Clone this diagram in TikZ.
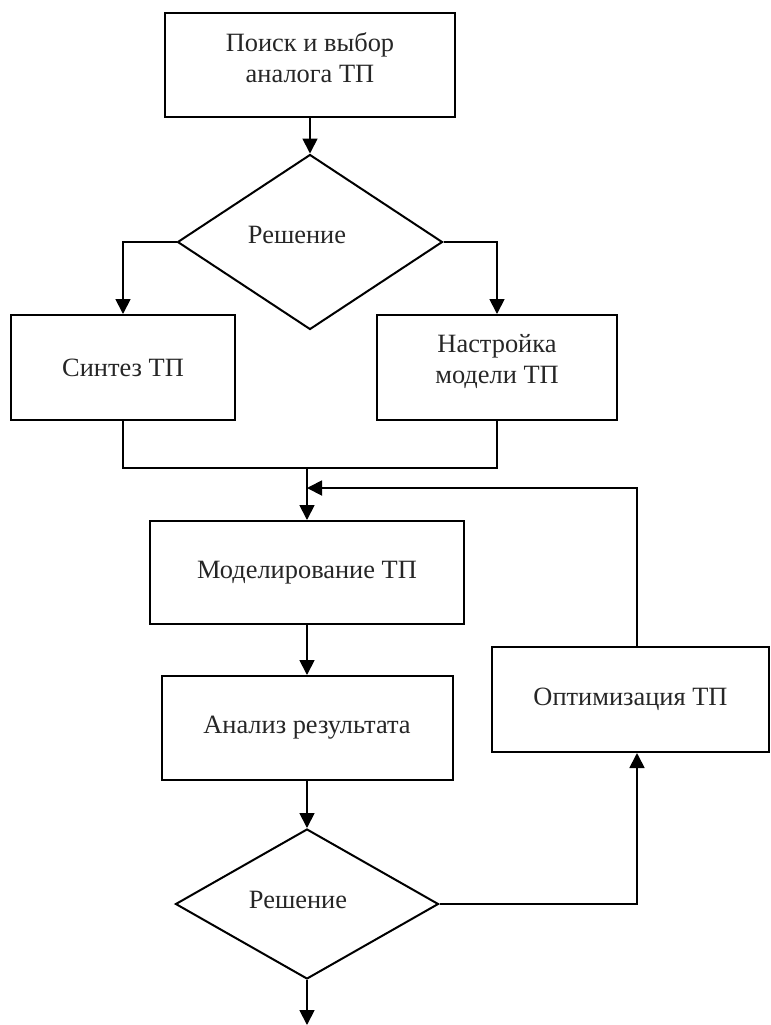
\documentclass[tikz,border=0pt]{standalone}
\usepackage{fontspec}
\setmainfont{Liberation Serif}
\usetikzlibrary{shapes.geometric,arrows.meta}
\begin{document}
\begin{tikzpicture}[x=0.5pt,y=-0.5pt,>={Triangle[length=7.5pt,width=7.5pt]},
		box/.style={draw,line width=1pt,minimum width=#1,minimum height=52pt,inner sep=0pt},
		decision/.style={draw,diamond,line width=1pt,inner sep=0pt},
		txt/.style={font=\fontsize{13.2}{15.5}\selectfont,align=center,text=black!85},
		line/.style={line width=0.9pt}]
			\useasboundingbox (0,0) rectangle (771,1025);
			\node[box=145pt] (poisk) at (310,65) {};
			\node[txt] at ([yshift=3.7pt]poisk.center) {Поиск и выбор\\аналога ТП};
			\node[decision,minimum width=132.5pt,minimum height=87.5pt] (reshenie1) at (310,242) {};
			\node[txt] at ([xshift=-6.5pt,yshift=3.5pt]reshenie1.center) {Решение};
			\node[box=112pt,minimum height=52.5pt,txt] (sintez) at (123,367.5) {Синтез ТП};
			\node[box=120pt,minimum height=52.5pt] (nastrojka) at (497,367.5) {};
			\node[txt] at ([yshift=3pt]nastrojka.center) {Настройка\\модели ТП};
			\node[box=157pt,minimum height=51.5pt,txt] (model) at (307,572.5) {Моделирование ТП};
			\node[box=145.5pt,txt] (analiz) at (307,728) {Анализ результата};
			\node[box=138.5pt,minimum height=52.5pt,txt] (optim) at (630.5,699.5) {Оптимизация ТП};
			\node[decision,minimum width=131.5pt,minimum height=75pt] (reshenie2) at (307,904) {};
			\node[txt] at ([xshift=-4.5pt,yshift=2pt]reshenie2.center) {Решение};
			\coordinate (merge) at (307,468);
			\coordinate (feedback) at (307,488);
			\coordinate (exit) at (307,1025);
			\draw[line,->] (poisk) -- (reshenie1);
			\draw[line,->] (reshenie1.west) -| (sintez.north);
			\draw[line,->] (reshenie1.east) -| (nastrojka.north);
			\draw[line] (sintez.south) |- (merge) -| (nastrojka.south);
			\draw[line,->] (merge) -- (model.north);
			\draw[line,->] ([xshift=3.25pt]optim.north) |- (feedback);
			\draw[line,->] (model) -- (analiz);
			\draw[line,->] (analiz) -- (reshenie2);
			\draw[line,->] (reshenie2.east) -| ([xshift=3.25pt]optim.south);
			\draw[line,->] (reshenie2.south) -- (exit);
\end{tikzpicture}
\end{document}
